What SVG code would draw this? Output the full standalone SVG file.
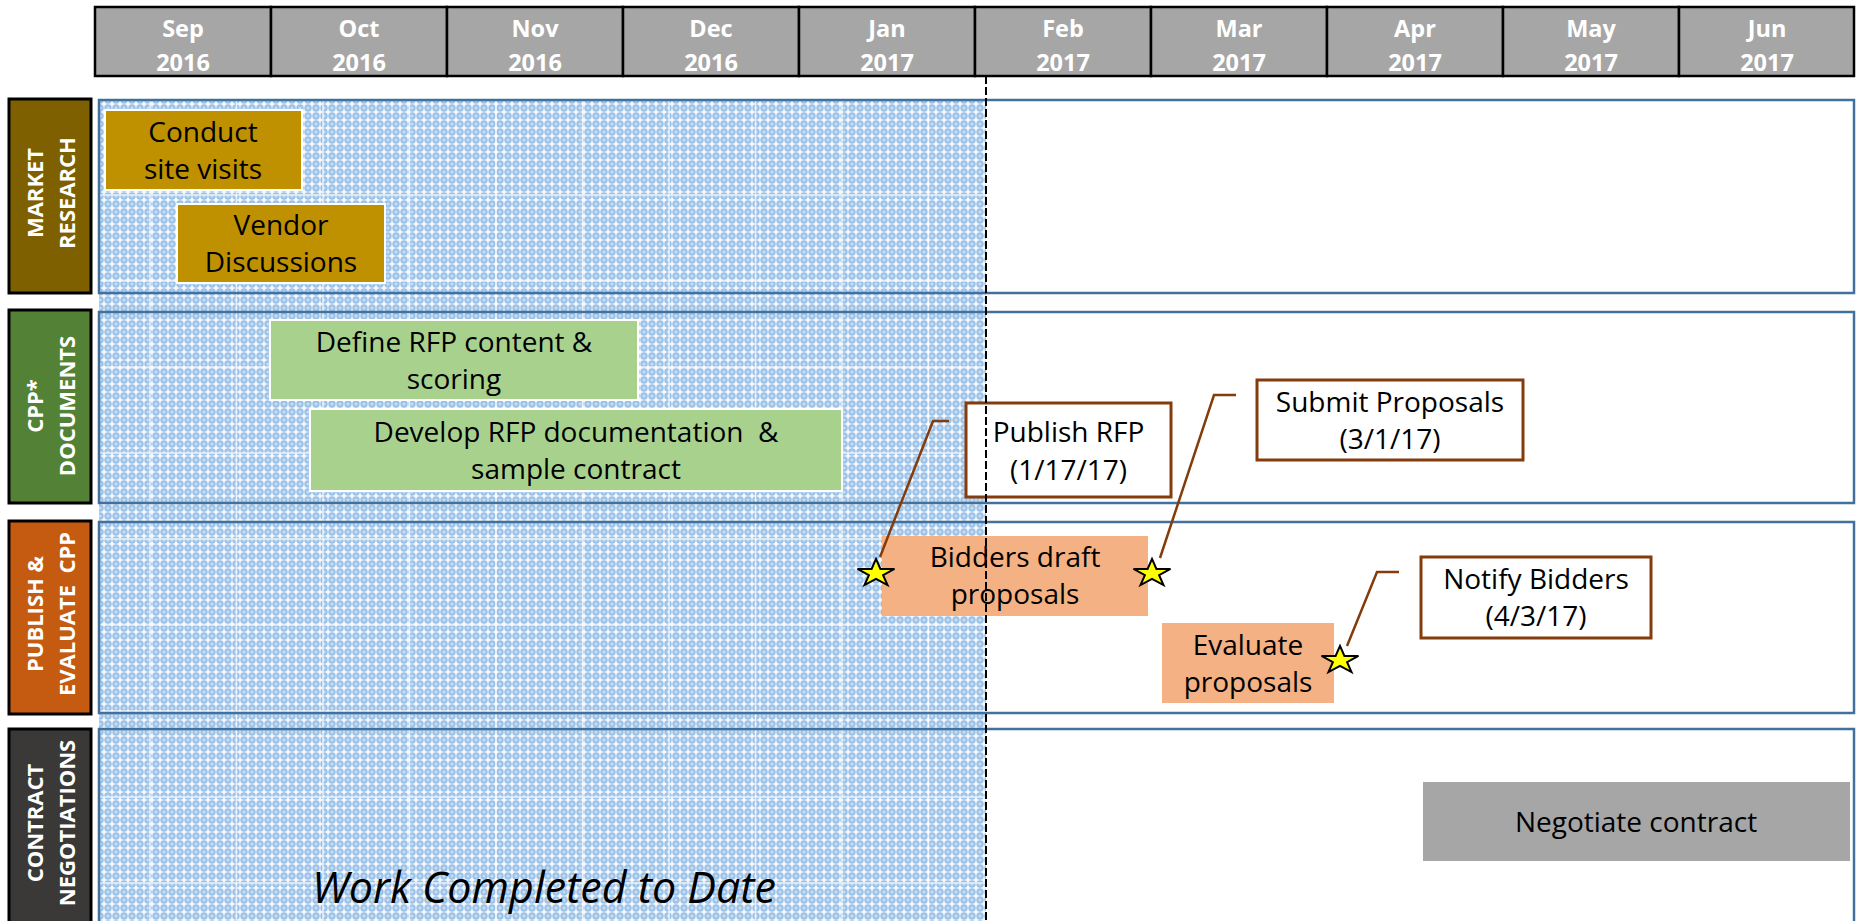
<svg xmlns="http://www.w3.org/2000/svg" xmlns:xlink="http://www.w3.org/1999/xlink" width="1856" height="921" viewBox="0 0 1856 921">
<style>
  .hdr { fill: #a6a6a6; stroke: #000; stroke-width: 2.5; }
  .hdrtxt { font-family: "Open Sans", "Liberation Sans", sans-serif; font-weight: bold; font-size: 23.5px; fill: #fff; text-anchor: middle; }
  .lbltxt { font-family: "Open Sans", "Liberation Sans", sans-serif; font-weight: bold; font-size: 22px; fill: #fff; text-anchor: middle; }
  .lblbox { stroke: #000; stroke-width: 3; }
  .lane { fill: none; stroke: #41719c; stroke-width: 2.5; }
  .task { stroke: #fff; stroke-width: 2; }
  .tasktxt { font-family: "Open Sans", "Liberation Sans", sans-serif; font-size: 28px; fill: #000; text-anchor: middle; }
  .callout { fill: #fff; stroke: #843c0c; stroke-width: 3; }
  .leader { fill: none; stroke: #843c0c; stroke-width: 2.5; }
  .star { fill: #ffff00; stroke: #000; stroke-width: 2; stroke-linejoin: miter; }
  .grid { stroke: #fff; stroke-width: 1.5; opacity: 0.75; }
</style>
<defs>
  <pattern id="hatch" x="0" y="0" width="8" height="8" patternUnits="userSpaceOnUse">
    <rect width="8" height="8" fill="#f4f8fd"/>
    <circle cx="4" cy="4" r="3.7" fill="#9cc2e8"/>
    <circle cx="4" cy="4" r="1.5" fill="#c9def4"/>
  </pattern>
  <path id="star" d="M0,-13.1 L4.4,-3.1 L18.5,-3.1 L7.1,3.1 L11.5,13.1 L0,6.9 L-11.5,13.1 L-7.1,3.1 L-18.5,-3.1 L-4.4,-3.1 Z"/>
</defs>
<rect width="1856" height="921" fill="#fff"/>

<g id="header">
  <rect class="hdr" x="95" y="7" width="176" height="69"/>
  <rect class="hdr" x="271" y="7" width="176" height="69"/>
  <rect class="hdr" x="447" y="7" width="176" height="69"/>
  <rect class="hdr" x="623" y="7" width="176" height="69"/>
  <rect class="hdr" x="799" y="7" width="176" height="69"/>
  <rect class="hdr" x="975" y="7" width="176" height="69"/>
  <rect class="hdr" x="1151" y="7" width="176" height="69"/>
  <rect class="hdr" x="1327" y="7" width="176" height="69"/>
  <rect class="hdr" x="1503" y="7" width="176" height="69"/>
  <rect class="hdr" x="1679" y="7" width="175" height="69"/>
  <text class="hdrtxt" x="183" y="37">Sep</text><text class="hdrtxt" x="183" y="71">2016</text>
  <text class="hdrtxt" x="359" y="37">Oct</text><text class="hdrtxt" x="359" y="71">2016</text>
  <text class="hdrtxt" x="535" y="37">Nov</text><text class="hdrtxt" x="535" y="71">2016</text>
  <text class="hdrtxt" x="711" y="37">Dec</text><text class="hdrtxt" x="711" y="71">2016</text>
  <text class="hdrtxt" x="887" y="37">Jan</text><text class="hdrtxt" x="887" y="71">2017</text>
  <text class="hdrtxt" x="1063" y="37">Feb</text><text class="hdrtxt" x="1063" y="71">2017</text>
  <text class="hdrtxt" x="1239" y="37">Mar</text><text class="hdrtxt" x="1239" y="71">2017</text>
  <text class="hdrtxt" x="1415" y="37">Apr</text><text class="hdrtxt" x="1415" y="71">2017</text>
  <text class="hdrtxt" x="1591" y="37">May</text><text class="hdrtxt" x="1591" y="71">2017</text>
  <text class="hdrtxt" x="1767" y="37">Jun</text><text class="hdrtxt" x="1767" y="71">2017</text>
</g>

<g id="completed-area">
  <rect x="99" y="100" width="887" height="821" fill="url(#hatch)"/>
  <g class="grid">
    <line x1="150" y1="100" x2="150" y2="921"/>
    <line x1="236.5" y1="100" x2="236.5" y2="921"/>
    <line x1="323" y1="100" x2="323" y2="921"/>
    <line x1="409.5" y1="100" x2="409.5" y2="921"/>
    <line x1="496" y1="100" x2="496" y2="921"/>
    <line x1="582.5" y1="100" x2="582.5" y2="921"/>
    <line x1="669" y1="100" x2="669" y2="921"/>
    <line x1="755.5" y1="100" x2="755.5" y2="921"/>
    <line x1="842" y1="100" x2="842" y2="921"/>
    <line x1="928.5" y1="100" x2="928.5" y2="921"/>
    <line x1="99" y1="195" x2="986" y2="195"/>
    <line x1="99" y1="281" x2="986" y2="281"/>
    <line x1="99" y1="367" x2="986" y2="367"/>
    <line x1="99" y1="453" x2="986" y2="453"/>
    <line x1="99" y1="539" x2="986" y2="539"/>
    <line x1="99" y1="625" x2="986" y2="625"/>
    <line x1="99" y1="711" x2="986" y2="711"/>
    <line x1="99" y1="797" x2="986" y2="797"/>
    <line x1="99" y1="883" x2="986" y2="883"/>
  </g>
</g>

<g id="lane-market">
  <rect class="lblbox" x="9" y="99" width="82" height="194" fill="#7f6000"/>
  <g transform="translate(0,193) rotate(-90)">
    <text class="lbltxt" x="0" y="43">MARKET</text>
    <text class="lbltxt" x="0" y="75">RESEARCH</text>
  </g>
  <rect class="lane" x="99" y="100" width="1755" height="193"/>
</g>
<g id="lane-cpp">
  <rect class="lblbox" x="9" y="310" width="82" height="193" fill="#538135"/>
  <g transform="translate(0,406) rotate(-90)">
    <text class="lbltxt" x="0" y="43">CPP*</text>
    <text class="lbltxt" x="0" y="75">DOCUMENTS</text>
  </g>
  <rect class="lane" x="99" y="312" width="1755" height="191"/>
</g>
<g id="lane-publish">
  <rect class="lblbox" x="9" y="521" width="82" height="193" fill="#c55a11"/>
  <g transform="translate(0,614) rotate(-90)">
    <text class="lbltxt" x="0" y="43">PUBLISH &amp;</text>
    <text class="lbltxt" x="0" y="75" xml:space="preserve">EVALUATE  CPP</text>
  </g>
  <rect class="lane" x="99" y="522" width="1755" height="191"/>
</g>
<g id="lane-contract">
  <rect class="lblbox" x="9" y="729" width="82" height="196" fill="#3b3838"/>
  <g transform="translate(0,823) rotate(-90)">
    <text class="lbltxt" x="0" y="43">CONTRACT</text>
    <text class="lbltxt" x="0" y="75">NEGOTIATIONS</text>
  </g>
  <rect class="lane" x="99" y="729" width="1755" height="196"/>
</g>

<g id="task-site-visits">
  <rect class="task" x="105" y="110" width="197" height="80" fill="#bf9000"/>
  <text class="tasktxt" x="203" y="141.5">Conduct</text>
  <text class="tasktxt" x="203" y="178.5">site visits</text>
</g>
<g id="task-vendor">
  <rect class="task" x="177" y="204" width="208" height="79" fill="#bf9000"/>
  <text class="tasktxt" x="281" y="235">Vendor</text>
  <text class="tasktxt" x="281" y="272">Discussions</text>
</g>
<g id="task-define-rfp">
  <rect class="task" x="270" y="320" width="368" height="80" fill="#a9d18e"/>
  <text class="tasktxt" x="454" y="351.5">Define RFP content &amp;</text>
  <text class="tasktxt" x="454" y="388.5">scoring</text>
</g>
<g id="task-develop-rfp">
  <rect class="task" x="310" y="409" width="532" height="82" fill="#a9d18e"/>
  <text class="tasktxt" x="576" y="441.5" xml:space="preserve">Develop RFP documentation  &amp;</text>
  <text class="tasktxt" x="576" y="478.5">sample contract</text>
</g>
<g id="task-bidders-draft">
  <rect x="882" y="536" width="266" height="80" fill="#f4b183"/>
  <text class="tasktxt" x="1015" y="567">Bidders draft</text>
  <text class="tasktxt" x="1015" y="604">proposals</text>
</g>
<g id="task-evaluate">
  <rect x="1162" y="623" width="172" height="80" fill="#f4b183"/>
  <text class="tasktxt" x="1248" y="654.5">Evaluate</text>
  <text class="tasktxt" x="1248" y="691.5">proposals</text>
</g>
<g id="task-negotiate">
  <rect x="1423" y="782" width="427" height="79" fill="#a6a6a6"/>
  <text class="tasktxt" x="1636" y="831.5">Negotiate contract</text>
</g>

<g id="milestone-publish">
  <rect class="callout" x="966" y="403" width="205" height="94"/>
  <text class="tasktxt" x="1068.5" y="442">Publish RFP</text>
  <text class="tasktxt" x="1068.5" y="480">(1/17/17)</text>
</g>
<g id="milestone-submit">
  <rect class="callout" x="1257" y="380" width="266" height="80"/>
  <text class="tasktxt" x="1390" y="411.5">Submit Proposals</text>
  <text class="tasktxt" x="1390" y="449">(3/1/17)</text>
</g>
<g id="milestone-notify">
  <rect class="callout" x="1421" y="557" width="230" height="81"/>
  <text class="tasktxt" x="1536" y="588.5">Notify Bidders</text>
  <text class="tasktxt" x="1536" y="626">(4/3/17)</text>
</g>

<g id="connectors">
  <polyline class="leader" points="880,557 933,421 949,421"/>
  <polyline class="leader" points="1160,558 1214,395 1236,395"/>
  <polyline class="leader" points="1347,646 1377,572 1399,572"/>
</g>

<g id="stars">
  <use xlink:href="#star" href="#star" class="star" transform="translate(876,572)"/>
  <use xlink:href="#star" href="#star" class="star" transform="translate(1152,572)"/>
  <use xlink:href="#star" href="#star" class="star" transform="translate(1340,659)"/>
</g>

<line id="today-line" x1="986" y1="76" x2="986" y2="921" stroke="#000" stroke-width="2" stroke-dasharray="8,3"/>

<text id="completed-label" x="544" y="903" font-family="'Open Sans', 'Liberation Sans', sans-serif" font-style="italic" font-size="43" fill="#000" text-anchor="middle">Work Completed to Date</text>
</svg>
